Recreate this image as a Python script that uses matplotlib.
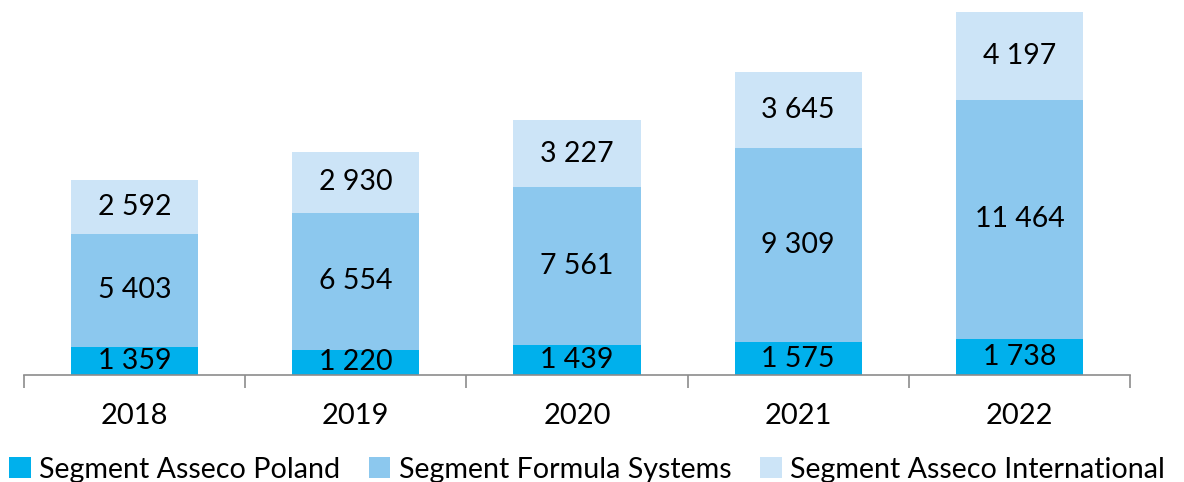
import numpy as np
import matplotlib.pyplot as plt
from matplotlib.ticker import FixedLocator

plt.rcParams['font.family'] = ['Lato', 'DejaVu Sans']

years = ['2018', '2019', '2020', '2021', '2022']
poland = [1359, 1220, 1439, 1575, 1738]
formula = [5403, 6554, 7561, 9309, 11464]
international = [2592, 2930, 3227, 3645, 4197]

names = ['Segment Asseco Poland', 'Segment Formula Systems', 'Segment Asseco International']
colors = ['#00B0EC', '#8CC8EE', '#CCE4F7']


def fmt(v):
    return f'{v:,}'.replace(',', ' ')


fig = plt.figure(figsize=(11.84, 4.82), dpi=100)
ax = fig.add_axes([0.0203, 0.222, 0.9341, 0.778])

x = np.arange(len(years))
bottom = np.zeros(len(years))
for vals, name, c in zip([poland, formula, international], names, colors):
    ax.bar(x, vals, width=0.575, bottom=bottom, color=c, label=name)
    for xi, b, v in zip(x, bottom, vals):
        ax.text(xi, b + v / 2, fmt(v), ha='center', va='center', fontsize=20.5, color='black')
    bottom += np.array(vals)

ax.set_xlim(-0.5, len(years) - 0.5)
ax.set_ylim(0, 17975)
ax.set_yticks([])
for s in ['top', 'right', 'left']:
    ax.spines[s].set_visible(False)
ax.spines['bottom'].set_color('#8C8C8C')
ax.spines['bottom'].set_linewidth(1.2)

ax.set_xticks(x)
ax.set_xticklabels(years, fontsize=21)
ax.tick_params(axis='x', which='major', length=0, pad=20)
ax.xaxis.set_minor_locator(FixedLocator(np.arange(-0.5, len(years), 1.0)))
ax.tick_params(axis='x', which='minor', length=9, width=1.2, color='#8C8C8C')

fig.legend(loc='lower left', bbox_to_anchor=(-0.002, -0.025), ncol=3, frameon=False,
           fontsize=20.6, handlelength=0.75, handleheight=0.75, handletextpad=0.3,
           columnspacing=1.0, borderaxespad=0)

fig.savefig('out.png', dpi=100)
